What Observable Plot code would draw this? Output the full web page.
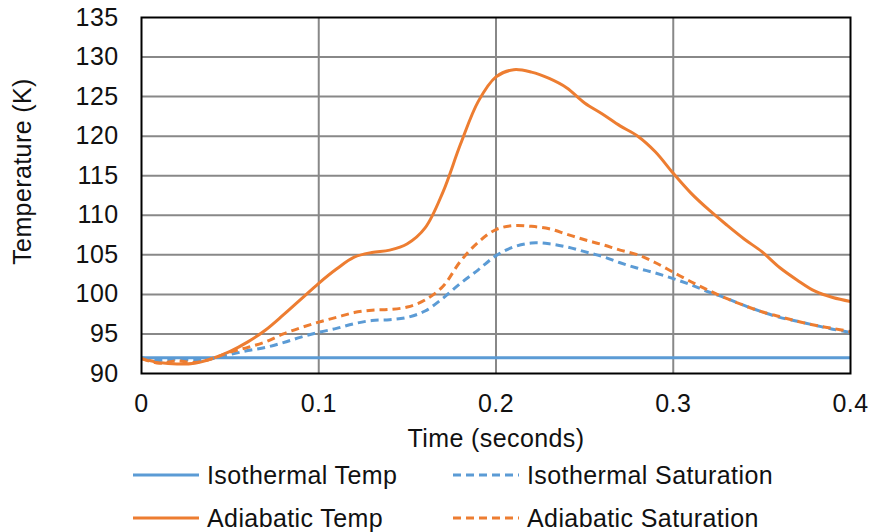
<!DOCTYPE html>
<html><head><meta charset="utf-8">
<script src="https://cdn.jsdelivr.net/npm/d3@7"></script>
<script src="https://cdn.jsdelivr.net/npm/@observablehq/plot@0.6"></script>
<style>
body{margin:0;background:#fff;font-family:"Liberation Sans",Arial,sans-serif;}
#wrap{position:relative;width:870px;height:532px;overflow:hidden;}
.leg{position:absolute;height:30px;display:flex;align-items:center;font-size:25px;letter-spacing:0.4px;color:#111;white-space:nowrap;}
.leg svg{margin-right:8px;}
#chart svg text{letter-spacing:0.4px;}
</style></head><body>
<div id="wrap"><div id="chart"></div><div id="legend"></div></div>
<script>
// ---- data ----
const time = [0.00,0.01,0.02,0.03,0.04,0.05,0.06,0.07,0.08,0.09,0.10,0.11,0.12,0.13,0.14,0.15,0.16,0.17,0.18,0.19,0.20,
              0.21,0.22,0.23,0.24,0.25,0.26,0.27,0.28,0.29,0.30,0.31,0.32,0.33,0.34,0.35,0.36,0.37,0.38,0.39,0.40];
const isoTempTime = [0.0, 0.4];
const isoTemp = [92.0, 92.0];
const adiTemp = [91.9,91.4,91.2,91.3,91.9,92.8,94.0,95.5,97.4,99.4,101.4,103.2,104.7,105.3,105.6,106.4,108.4,112.9,119.0,124.4,127.5,
                 128.4,128.1,127.3,126.1,124.2,122.8,121.3,120.0,118.0,115.3,112.8,110.7,108.8,107.0,105.4,103.4,101.8,100.4,99.6,99.1];
const adiSat  = [91.9,91.3,91.6,91.4,91.9,92.7,93.3,94.0,95.0,95.8,96.5,97.1,97.7,98.0,98.1,98.4,99.3,101.0,104.2,106.6,108.2,
                 108.7,108.6,108.3,107.6,106.9,106.3,105.6,105.0,104.0,102.8,101.6,100.5,99.5,98.6,97.8,97.2,96.6,96.1,95.7,95.3];
const isoSat  = [92.0,91.7,91.8,91.7,91.9,92.4,92.9,93.3,93.9,94.6,95.2,95.7,96.3,96.7,96.8,97.1,97.9,99.5,101.4,103.1,104.9,
                 106.0,106.5,106.4,106.0,105.4,104.8,104.0,103.3,102.7,102.0,101.2,100.3,99.5,98.6,97.8,97.1,96.6,96.1,95.6,95.2];
const seriesNames = ["Isothermal Temp","Isothermal Saturation","Adiabatic Temp","Adiabatic Saturation"];
const xTicks = [0,0.1,0.2,0.3,0.4];
const xTickLabels = ["0","0.1","0.2","0.3","0.4"];
const yTicks = [90,95,100,105,110,115,120,125,130,135];
const yTickLabels = ["90","95","100","105","110","115","120","125","130","135"];
const xTitle = "Time (seconds)";
const yTitle = "Temperature (K)";

// ---- styles ----
const BLUE = "#5B9BD5", ORANGE = "#ED7D31";
const styles = {
  "Isothermal Temp": {color: BLUE, dash: null},
  "Isothermal Saturation": {color: BLUE, dash: "8,5"},
  "Adiabatic Temp": {color: ORANGE, dash: null},
  "Adiabatic Saturation": {color: ORANGE, dash: "8,5"}
};
const toRows = (ts, vs) => ts.map((t, i) => ({t, v: vs[i]}));
const data = {
  "Isothermal Temp": toRows(isoTempTime, isoTemp),
  "Isothermal Saturation": toRows(time, isoSat),
  "Adiabatic Temp": toRows(time, adiTemp),
  "Adiabatic Saturation": toRows(time, adiSat)
};
const drawOrder = ["Isothermal Temp","Adiabatic Temp","Isothermal Saturation","Adiabatic Saturation"];

const chart = Plot.plot({
  width: 870, height: 452,
  marginLeft: 141, marginRight: 20, marginTop: 17, marginBottom: 79,
  style: {fontFamily: '"Liberation Sans", Arial, sans-serif', fontSize: "25px", color: "#111", background: "#fff"},
  x: {domain: [0, 0.4]},
  y: {domain: [90, 135]},
  marks: [
    Plot.gridX(xTicks.slice(1, -1), {stroke: "#888", strokeOpacity: 1, strokeWidth: 2}),
    Plot.gridY(yTicks.slice(1, -1), {stroke: "#888", strokeOpacity: 1, strokeWidth: 2}),
    Plot.axisX({ticks: xTicks, tickFormat: (d) => xTickLabels[xTicks.indexOf(d)], tickSize: 0, tickPadding: 21,
      label: xTitle, labelAnchor: "center", labelArrow: "none", labelOffset: 73}),
    Plot.axisY({ticks: yTicks, tickFormat: (d) => yTickLabels[yTicks.indexOf(d)], tickSize: 0, tickPadding: 23, label: null}),
    Plot.text([yTitle], {frameAnchor: "left", text: d => d, rotate: -90, dx: -119, dy: -24,
      textAnchor: "middle", lineAnchor: "middle", fill: "#111", fontSize: 25}),
    ...drawOrder.map(name => Plot.line(data[name], {
      x: "t", y: "v", stroke: styles[name].color, strokeWidth: 3,
      strokeDasharray: styles[name].dash ?? undefined, curve: "catmull-rom", strokeLinecap: "butt"
    })),
    Plot.frame({stroke: "#000", strokeWidth: 2})
  ]
});
document.getElementById("chart").appendChild(chart);

// ---- legend ----
const legPos = [
  {name: "Isothermal Temp", left: 133, top: 460},
  {name: "Isothermal Saturation", left: 453, top: 460},
  {name: "Adiabatic Temp", left: 133, top: 503},
  {name: "Adiabatic Saturation", left: 453, top: 503}
];
const legend = document.getElementById("legend");
for (const p of legPos) {
  const s = styles[p.name];
  const div = document.createElement("div");
  div.className = "leg";
  div.style.left = p.left + "px";
  div.style.top = p.top + "px";
  div.innerHTML = `<svg width="66" height="6"><line x1="0" y1="3" x2="66" y2="3" stroke="${s.color}" stroke-width="3" ${s.dash ? `stroke-dasharray="${s.dash}"` : ""}/></svg><span>${p.name}</span>`;
  legend.appendChild(div);
}
</script>
</body></html>
